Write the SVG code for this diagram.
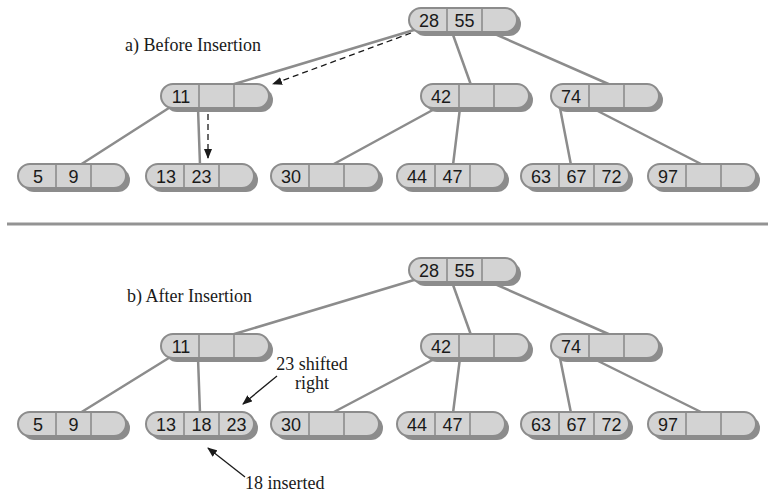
<svg xmlns="http://www.w3.org/2000/svg" xmlns:xlink="http://www.w3.org/1999/xlink" width="768" height="496" viewBox="0 0 768 496">
<style>
.edge{stroke:#8c8c8c;stroke-width:2.5;fill:none;stroke-linecap:round}
.num{font-family:"Liberation Sans",Arial,sans-serif;font-size:18px;fill:#1a1a1a;text-anchor:middle}
.lbl{font-family:"Liberation Serif","Times New Roman",serif;font-size:18px;fill:#1a1a1a}
.arr{stroke:#1a1a1a;stroke-width:1.3;fill:none}
.dash{stroke-dasharray:6,4}
</style>
<defs>
<marker id="ah" markerUnits="userSpaceOnUse" markerWidth="10" markerHeight="8" refX="9" refY="4" orient="auto">
<path d="M0,0 L10,4 L0,8 z" fill="#1a1a1a"/>
</marker>
<g id="shape">
<rect x="4" y="4" width="108" height="24" rx="12" fill="#8c8c8c"/>
<rect x="0" y="0" width="108" height="24" rx="12" fill="#d3d3d3" stroke="#8c8c8c" stroke-width="2"/>
<line x1="38" y1="0" x2="38" y2="24" stroke="#8c8c8c" stroke-width="1.6"/>
<line x1="73" y1="0" x2="73" y2="24" stroke="#8c8c8c" stroke-width="1.6"/>
</g>
</defs>
<rect width="768" height="496" fill="#ffffff"/>
<rect x="7" y="222.5" width="761" height="3" fill="#939393"/>
<text class="lbl" x="125" y="51">a) Before Insertion</text>
<text class="lbl" x="127" y="302">b) After Insertion</text>
<text class="lbl" x="312" y="370" text-anchor="middle">23 shifted</text>
<text class="lbl" x="312" y="389" text-anchor="middle">right</text>
<text class="lbl" x="245" y="489">18 inserted</text>
<g id="connectors">
<line class="edge" x1="414" y1="30" x2="231" y2="85"/>
<line class="edge" x1="452" y1="32" x2="471" y2="85"/>
<line class="edge" x1="488" y1="31" x2="613" y2="86"/>
<line class="edge" x1="172" y1="106" x2="80" y2="165"/>
<line class="edge" x1="198" y1="108" x2="200" y2="165"/>
<line class="edge" x1="440" y1="106" x2="332" y2="165"/>
<line class="edge" x1="460" y1="108" x2="453" y2="165"/>
<line class="edge" x1="560" y1="108" x2="571" y2="165"/>
<line class="edge" x1="588" y1="106" x2="703" y2="165"/>
<line class="edge" x1="414" y1="280" x2="231" y2="335"/>
<line class="edge" x1="452" y1="282" x2="471" y2="335"/>
<line class="edge" x1="488" y1="281" x2="613" y2="336"/>
<line class="edge" x1="172" y1="356" x2="80" y2="413"/>
<line class="edge" x1="198" y1="358" x2="200" y2="413"/>
<line class="edge" x1="440" y1="356" x2="332" y2="413"/>
<line class="edge" x1="460" y1="358" x2="453" y2="413"/>
<line class="edge" x1="560" y1="358" x2="571" y2="413"/>
<line class="edge" x1="588" y1="356" x2="703" y2="413"/>
<line class="arr dash" x1="411" y1="33" x2="273" y2="84" marker-end="url(#ah)"/>
<line class="arr dash" x1="208" y1="114" x2="208" y2="158" marker-end="url(#ah)"/>
<line class="arr" x1="277" y1="376" x2="243" y2="404" marker-end="url(#ah)"/>
<line class="arr" x1="245" y1="477" x2="208" y2="448" marker-end="url(#ah)"/>
</g>
<g id="a-root" transform="translate(409,8)"><use xlink:href="#shape"/><text class="num" x="20" y="18.5">28</text><text class="num" x="55.5" y="18.5">55</text></g>
<g id="a-n11" transform="translate(161,84)"><use xlink:href="#shape"/><text class="num" x="20" y="18.5">11</text></g>
<g id="a-n42" transform="translate(421,84)"><use xlink:href="#shape"/><text class="num" x="20" y="18.5">42</text></g>
<g id="a-n74" transform="translate(551,84)"><use xlink:href="#shape"/><text class="num" x="20" y="18.5">74</text></g>
<g id="a-l59" transform="translate(18,164)"><use xlink:href="#shape"/><text class="num" x="20" y="18.5">5</text><text class="num" x="55.5" y="18.5">9</text></g>
<g id="a-l1323" transform="translate(146,164)"><use xlink:href="#shape"/><text class="num" x="20" y="18.5">13</text><text class="num" x="55.5" y="18.5">23</text></g>
<g id="a-l30" transform="translate(271,164)"><use xlink:href="#shape"/><text class="num" x="20" y="18.5">30</text></g>
<g id="a-l4447" transform="translate(397,164)"><use xlink:href="#shape"/><text class="num" x="20" y="18.5">44</text><text class="num" x="55.5" y="18.5">47</text></g>
<g id="a-l636772" transform="translate(521,164)"><use xlink:href="#shape"/><text class="num" x="20" y="18.5">63</text><text class="num" x="55.5" y="18.5">67</text><text class="num" x="90.5" y="18.5">72</text></g>
<g id="a-l97" transform="translate(648,164)"><use xlink:href="#shape"/><text class="num" x="20" y="18.5">97</text></g>
<g id="b-root" transform="translate(409,258)"><use xlink:href="#shape"/><text class="num" x="20" y="18.5">28</text><text class="num" x="55.5" y="18.5">55</text></g>
<g id="b-n11" transform="translate(161,334)"><use xlink:href="#shape"/><text class="num" x="20" y="18.5">11</text></g>
<g id="b-n42" transform="translate(421,334)"><use xlink:href="#shape"/><text class="num" x="20" y="18.5">42</text></g>
<g id="b-n74" transform="translate(551,334)"><use xlink:href="#shape"/><text class="num" x="20" y="18.5">74</text></g>
<g id="b-l59" transform="translate(18,412)"><use xlink:href="#shape"/><text class="num" x="20" y="18.5">5</text><text class="num" x="55.5" y="18.5">9</text></g>
<g id="b-l131823" transform="translate(146,412)"><use xlink:href="#shape"/><text class="num" x="20" y="18.5">13</text><text class="num" x="55.5" y="18.5">18</text><text class="num" x="90.5" y="18.5">23</text></g>
<g id="b-l30" transform="translate(271,412)"><use xlink:href="#shape"/><text class="num" x="20" y="18.5">30</text></g>
<g id="b-l4447" transform="translate(397,412)"><use xlink:href="#shape"/><text class="num" x="20" y="18.5">44</text><text class="num" x="55.5" y="18.5">47</text></g>
<g id="b-l636772" transform="translate(521,412)"><use xlink:href="#shape"/><text class="num" x="20" y="18.5">63</text><text class="num" x="55.5" y="18.5">67</text><text class="num" x="90.5" y="18.5">72</text></g>
<g id="b-l97" transform="translate(648,412)"><use xlink:href="#shape"/><text class="num" x="20" y="18.5">97</text></g>
</svg>
